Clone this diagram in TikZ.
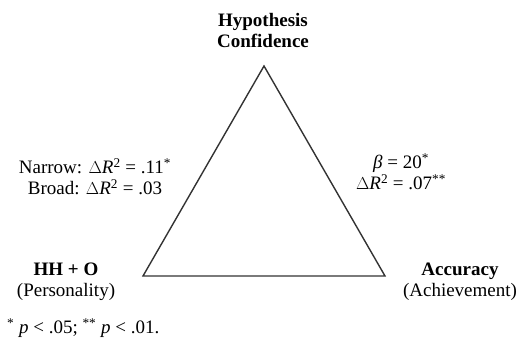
\documentclass[tikz,border=0pt]{standalone}
\usepackage{fontspec}
\setmainfont{Liberation Serif}
\newcommand{\dR}{$\Delta$\textit{R}\textsuperscript{2}}
\begin{document}
\fontsize{19}{21}\selectfont
\begin{tikzpicture}[x=1pt,y=-1pt,
  lbl/.style={align=center,inner sep=0pt}]
\useasboundingbox (0,0) rectangle (518,350);
\coordinate (hyp) at (264,66);
\coordinate (per) at (143,276);
\coordinate (acc) at (385,276);
\draw[line width=1.4pt,black!80,line join=miter] (hyp) -- (per) -- (acc) -- cycle;
\node[lbl] (top) at (263,31) {\textbf{Hypothesis}\\\textbf{Confidence}};
\node[lbl] (left) at (95,177) {Narrow: \dR{} = .11\textsuperscript{*}\\Broad: \dR{} = .03};
\node[lbl] (right) at (401,172) {\textit{β} = 20\textsuperscript{*}\\\dR{} = .07\textsuperscript{**}};
\node[lbl] (hho) at (66,282) {\textbf{HH + O}\\(Personality)};
\node[lbl] (accl) at (460,282) {\textbf{Accuracy}\\(Achievement)};
\node[lbl,anchor=west] (note) at (7,328) {\textsuperscript{*} \textit{p} < .05; \textsuperscript{**} \textit{p} < .01.};
\end{tikzpicture}
\end{document}
